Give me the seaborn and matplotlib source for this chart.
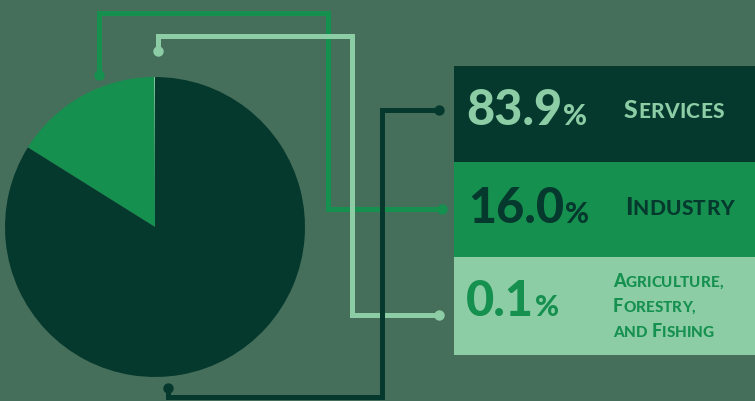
import matplotlib
matplotlib.use("Agg")
import matplotlib.pyplot as plt
from matplotlib.patches import Rectangle
import seaborn as sns

# ---- data ----
sectors = ["Services", "Industry", "Agriculture, Forestry, and Fishing"]
shares = [83.9, 16.0, 0.1]
label_lines = [["Services"], ["Industry"], ["Agriculture,", "Forestry,", "and Fishing"]]

# ---- styling ----
BG = "#456f5a"
palette = sns.color_palette(["#06392e", "#15904f", "#8ccda5"])
text_colors = ["#8ccda5", "#06392e", "#15904f"]

sns.set_theme(style="white", rc={"figure.facecolor": BG, "axes.facecolor": BG})
plt.rcParams["font.family"] = ["Lato", "DejaVu Sans"]

W, H = 755, 401
fig = plt.figure(figsize=(W / 100, H / 100), dpi=100)
fig.patch.set_facecolor(BG)
over = fig.add_axes([0, 0, 1, 1])
over.set_xlim(0, W)
over.set_ylim(H, 0)
over.axis("off")

# ---- pie ----
cx, cy, r = 155, 227, 150
pax = fig.add_axes([(cx - r) / W, (H - cy - r) / H, 2 * r / W, 2 * r / H])
pax.pie(shares[::-1], colors=list(palette)[::-1], startangle=90, counterclock=True,
        wedgeprops=dict(linewidth=0))
pax.set_xlim(-1, 1)
pax.set_ylim(-1, 1)
pax.axis("off")

# ---- boxes ----
row_edges = [66, 162, 257, 355]
box_x0, box_x1 = 454, 755
for i in range(len(shares)):
    over.add_patch(Rectangle((box_x0, row_edges[i]), box_x1 - box_x0,
                             row_edges[i + 1] - row_edges[i],
                             facecolor=palette[i], edgecolor="none", zorder=1))

# ---- connectors ----
connectors = [
    [(168, 388), (168, 397), (382, 397), (382, 110), (439, 110)],   # services
    [(99, 75), (99, 13), (328, 13), (328, 209), (442, 209)],       # industry
    [(158, 51), (158, 36), (352, 36), (352, 315), (439, 315)],     # agriculture
]
z_order = [5, 3, 4]
for i, path in enumerate(connectors):
    xs = [p[0] for p in path]
    ys = [p[1] for p in path]
    over.plot(xs, ys, color=palette[i], lw=3.6, solid_capstyle="butt",
              solid_joinstyle="miter", zorder=z_order[i])
    over.plot([xs[0], xs[-1]], [ys[0], ys[-1]], "o", color=palette[i], ms=7.5,
              mec="none", zorder=z_order[i])

renderer = fig.canvas.get_renderer()


def draw_runs(x, y, runs, color, track=1.0):
    for s, size in runs:
        if s == " ":
            x += size * 100 / 72 * 0.3
            continue
        t = over.text(x, y, s, fontsize=size, color=color, fontweight="black",
                      va="baseline", ha="left", zorder=6)
        bb = t.get_window_extent(renderer)
        x += bb.width + track


def smallcaps(line, big, small):
    runs = []
    for j, word in enumerate(line.split(" ")):
        if j > 0:
            runs.append((" ", small))
        if word[0].isupper():
            runs.append((word[0], big))
            rest = word[1:]
        else:
            rest = word
        if rest:
            runs.append((rest.upper(), small))
    return runs


def letters(runs):
    # split runs into single glyphs so tracking applies between every letter
    out = []
    for s, size in runs:
        if s == " ":
            out.append((s, size))
        else:
            out.extend((ch, size) for ch in s)
    return out


num_base = [125, 223, 316]
num_x = [466, 468, 466]
label_x = [624, 625, 613]
label_base = [[118], [215], [287, 312, 337]]
label_sizes = [(18, 15), (18, 15), (13, 11)]
label_track = [0.3, 0.3, 0.0]

for i, v in enumerate(shares):
    draw_runs(num_x[i], num_base[i], [(f"{v:.1f}", 35), ("%", 21)], text_colors[i], 1.0)
    big, small = label_sizes[i]
    for line, yb in zip(label_lines[i], label_base[i]):
        draw_runs(label_x[i], yb, letters(smallcaps(line, big, small)),
                  text_colors[i], label_track[i])

fig.savefig("out.png", dpi=100, facecolor=BG)
